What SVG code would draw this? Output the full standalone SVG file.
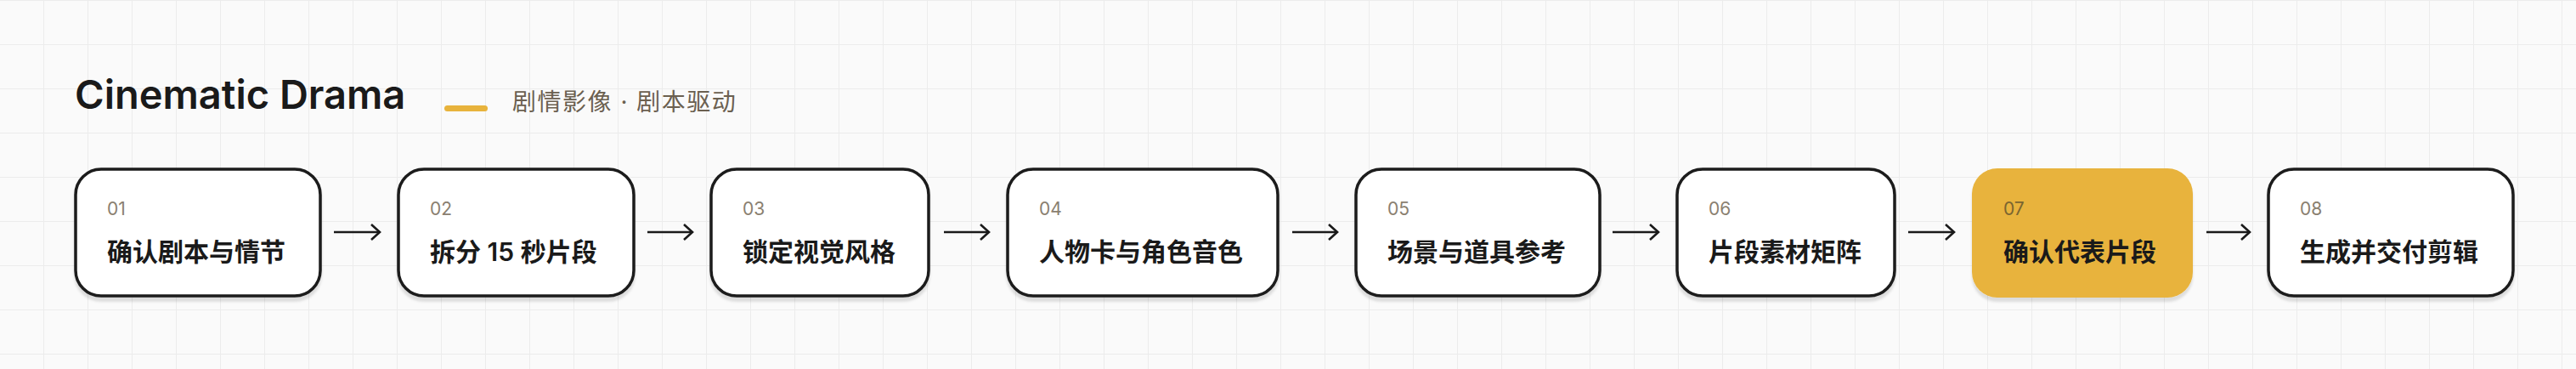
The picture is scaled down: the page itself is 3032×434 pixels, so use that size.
<svg xmlns="http://www.w3.org/2000/svg" width="3032" height="434" viewBox="0 0 3032 434">
<defs>
<pattern id="grid" width="52" height="52" patternUnits="userSpaceOnUse" x="0" y="1">
<path d="M52 0V52M0 52H52" fill="none" stroke="#ececec" stroke-width="2"/>
</pattern>
<filter id="sh" x="-10%" y="-10%" width="120%" height="130%"><feDropShadow dx="0" dy="5" stdDeviation="1.5" flood-color="#000" flood-opacity="0.12"/></filter>
<marker id="ah" markerWidth="14" markerHeight="20" refX="11" refY="10" orient="auto" markerUnits="userSpaceOnUse"><path d="M1 1L11 10L1 19" fill="none" stroke="#1a1a1a" stroke-width="2.6"/></marker>
</defs>
<style>
.n rect{fill:#fff;stroke:#1a1a1a;stroke-width:3.5}
.n.hi rect{fill:#E8B33C;stroke:none}
.num{font-family:Inter,"Noto Sans",sans-serif;font-size:21px;fill:#8a8070}
.hi .num{fill:#7a6530}
.lbl{font-family:Inter,"Noto Sans CJK SC",sans-serif;font-size:30px;font-weight:600;fill:#1a1a1a}
.c line{stroke:#1a1a1a;stroke-width:2.6;marker-end:url(#ah)}
</style>
<rect width="3032" height="434" fill="#fafafa"/>
<rect width="3032" height="434" fill="url(#grid)"/>
<text x="88" y="128" font-family="Inter,'Noto Sans',sans-serif" font-size="47" font-weight="600" fill="#1a1a1a">Cinematic Drama</text>
<rect x="523" y="124" width="51" height="7" rx="3.5" fill="#E8B33C"/>
<text x="603" y="130" font-family="Inter,'Noto Sans CJK SC',sans-serif" font-size="28" letter-spacing="1.5" fill="#6b6050">剧情影像 · 剧本驱动</text>
<g class="c">
<line x1="393" y1="273" x2="447" y2="273"/>
<line x1="762" y1="273" x2="815" y2="273"/>
<line x1="1111" y1="273" x2="1164" y2="273"/>
<line x1="1521" y1="273" x2="1574" y2="273"/>
<line x1="1898" y1="273" x2="1952" y2="273"/>
<line x1="2246" y1="273" x2="2300" y2="273"/>
<line x1="2597" y1="273" x2="2648" y2="273"/>
</g>
<g id="n1" class="n"><rect x="89" y="199" width="288" height="149" rx="30" filter="url(#sh)"/><text class="num" x="126" y="253">01</text><text class="lbl" x="126" y="307">确认剧本与情节</text></g>
<g id="n2" class="n"><rect x="469" y="199" width="277" height="149" rx="30" filter="url(#sh)"/><text class="num" x="506" y="253">02</text><text class="lbl" x="506" y="307">拆分 15 秒片段</text></g>
<g id="n3" class="n"><rect x="837" y="199" width="256" height="149" rx="30" filter="url(#sh)"/><text class="num" x="874" y="253">03</text><text class="lbl" x="874" y="307">锁定视觉风格</text></g>
<g id="n4" class="n"><rect x="1186" y="199" width="318" height="149" rx="30" filter="url(#sh)"/><text class="num" x="1223" y="253">04</text><text class="lbl" x="1223" y="307">人物卡与角色音色</text></g>
<g id="n5" class="n"><rect x="1596" y="199" width="287" height="149" rx="30" filter="url(#sh)"/><text class="num" x="1633" y="253">05</text><text class="lbl" x="1633" y="307">场景与道具参考</text></g>
<g id="n6" class="n"><rect x="1974" y="199" width="256" height="149" rx="30" filter="url(#sh)"/><text class="num" x="2011" y="253">06</text><text class="lbl" x="2011" y="307">片段素材矩阵</text></g>
<g id="n7" class="n hi"><rect x="2321" y="198" width="260" height="152" rx="30" filter="url(#sh)"/><text class="num" x="2358" y="253">07</text><text class="lbl" x="2358" y="307">确认代表片段</text></g>
<g id="n8" class="n"><rect x="2670" y="199" width="288" height="149" rx="30" filter="url(#sh)"/><text class="num" x="2707" y="253">08</text><text class="lbl" x="2707" y="307">生成并交付剪辑</text></g>
</svg>
